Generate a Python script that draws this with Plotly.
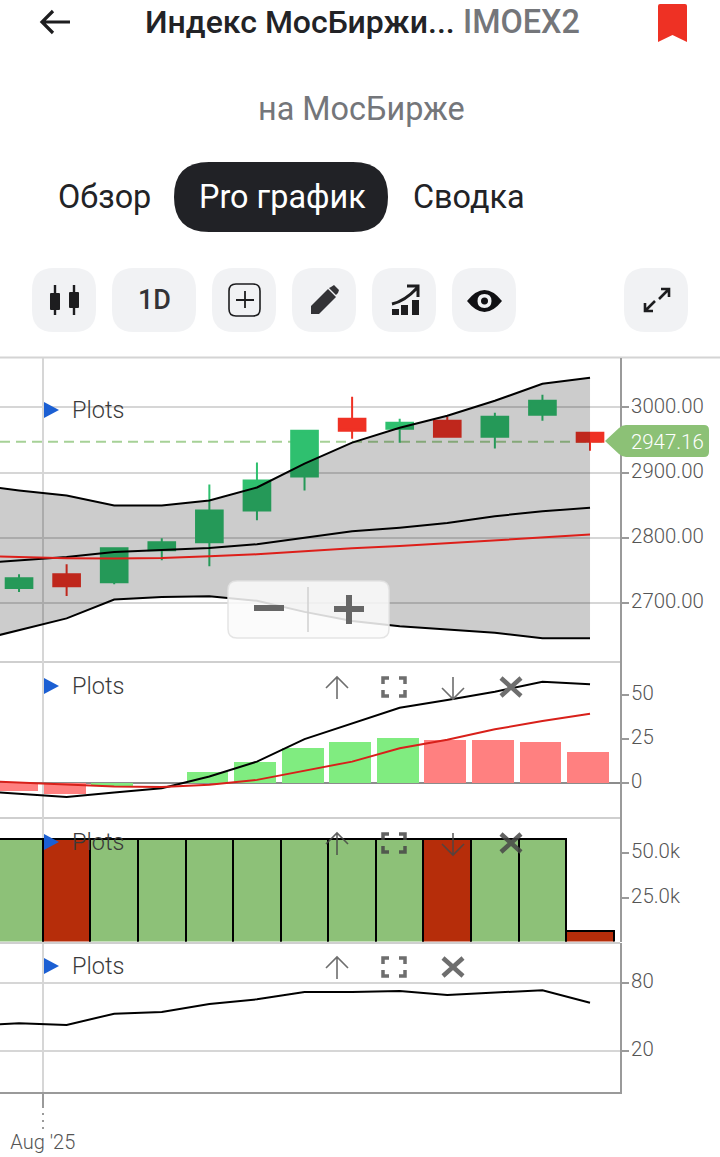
import re
import plotly.graph_objects as go

# ---------- data ----------
sessions = list(range(13))
opens  = [2722.5, 2743.9, 2731.7, 2780.7, 2792.9, 2841.9, 2894.0, 2982.7, 2967.4, 2979.6, 2955.2, 2988.8, 2961.3]
highs  = [2743.9, 2759.2, 2783.7, 2799.0, 2881.7, 2915.4, 2964.3, 3016.4, 2982.7, 2985.8, 2991.9, 3019.4, 2961.3]
lows   = [2716.4, 2710.2, 2728.6, 2765.4, 2756.2, 2826.6, 2872.5, 2952.1, 2946.0, 2955.2, 2936.8, 2979.6, 2933.7]
closes = [2737.8, 2725.5, 2783.7, 2792.9, 2841.9, 2887.8, 2964.3, 2964.3, 2976.6, 2955.2, 2985.8, 3010.3, 2947.16]
last_price = 2947.16

line_x = list(range(-1, 13))
bb_upper = [2881.7, 2872.5, 2864.9, 2849.5, 2849.5, 2857.2, 2877.1, 2913.8, 2946.0, 2968.9, 2987.3, 3010.3, 3036.3, 3045.5]
bb_mid   = [2760.0, 2765.4, 2770.4, 2778.0, 2780.6, 2784.0, 2790.0, 2800.0, 2809.7, 2815.4, 2822.4, 2833.0, 2840.4, 2846.0]
bb_lower = [2639.8, 2658.2, 2676.0, 2705.0, 2709.0, 2710.0, 2703.0, 2686.0, 2672.0, 2664.0, 2659.0, 2654.0, 2645.5, 2645.5]
ma_red   = [2772.2, 2769.9, 2768.4, 2768.0, 2768.9, 2771.5, 2774.5, 2779.0, 2783.7, 2787.2, 2791.8, 2796.0, 2800.6, 2804.7]

macd_hist = [-5.0, -6.4, -1.9, 0.0, 5.9, 11.8, 19.7, 23.0, 25.2, 24.3, 24.3, 23.1, 17.3]
macd_side = ["r", "r", "g", "g", "g", "g", "g", "g", "g", "r", "r", "r", "r"]
macd_line = [-4.5, -6.4, -8.3, -5.7, -3.2, 3.4, 11.9, 24.7, 33.7, 42.6, 47.0, 51.7, 57.4, 56.0]
macd_sig  = [1.1, 0.0, -1.3, -2.3, -2.6, -1.3, 1.5, 6.8, 11.9, 19.5, 24.3, 30.3, 35.0, 39.2]

volume = [57600, 57600, 57600, 57600, 57600, 57600, 57600, 57600, 57600, 57600, 57600, 57600, 6600]
vol_side = ["g", "r", "g", "g", "g", "g", "g", "g", "g", "r", "g", "g", "r"]

rsi = [41.8, 44.2, 42.7, 52.6, 54.1, 61.2, 65.3, 71.8, 71.8, 72.7, 69.1, 71.5, 73.3, 62.3]

price_ticks = [2700, 2800, 2900, 3000]
macd_ticks = [0, 25, 50]
vol_ticks = [25000, 50000]
vol_labels = ["25.0k", "50.0k"]
rsi_ticks = [20, 80]
date_ticks = [0.5]
date_labels = ["Aug '25"]

# ---------- helpers (page pixels -> paper) ----------
W, H = 720, 1157
def X(v): return v / W
def Y(v): return 1 - v / H

def P(s):
    toks = re.findall(r"[MLQCZ]|-?\d+\.?\d*", s)
    out, is_x = [], True
    for t in toks:
        if t.isalpha():
            out.append(t); is_x = True
        else:
            v = float(t)
            out.append(f"{X(v) if is_x else Y(v):.5f}")
            is_x = not is_x
    return " ".join(out)

shapes = []
def path(s, fill=None, line=None, width=0, layer="above"):
    d = dict(type="path", xref="paper", yref="paper", path=P(s), layer=layer,
             line=dict(color=line or "rgba(0,0,0,0)", width=width))
    if fill:
        d["fillcolor"] = fill
    shapes.append(d)

def rr(x0, y0, x1, y1, r):
    return (f"M{x0+r} {y0} L{x1-r} {y0} Q{x1} {y0} {x1} {y0+r} L{x1} {y1-r} Q{x1} {y1} {x1-r} {y1} "
            f"L{x0+r} {y1} Q{x0} {y1} {x0} {y1-r} L{x0} {y0+r} Q{x0} {y0} {x0+r} {y0} Z")

def hline(y, x0, x1, color, width=2, layer="below"):
    path(f"M{x0} {y} L{x1} {y}", line=color, width=width, layer=layer)

annotations = []
def text(x, y, s, size, color, anchor="left", weight=400):
    annotations.append(dict(xref="paper", yref="paper", x=X(x), y=Y(y), text=s, showarrow=False,
                            xanchor=anchor, yanchor="middle", borderpad=0, borderwidth=0,
                            font=dict(family="Roboto", size=size, color=color, weight=weight)))

# ---------- traces ----------
GREEN, RED = "#2fc06f", "#ef3124"
traces = [
    go.Candlestick(x=sessions, open=opens, high=highs, low=lows, close=closes, xaxis="x", yaxis="y",
                   whiskerwidth=0, hoverinfo="skip",
                   increasing=dict(line=dict(color=GREEN, width=2), fillcolor=GREEN),
                   decreasing=dict(line=dict(color=RED, width=2), fillcolor=RED)),
    go.Scatter(x=line_x, y=bb_lower, mode="lines", line=dict(color="#000", width=2), xaxis="x", yaxis="y"),
    go.Scatter(x=line_x, y=bb_upper, mode="lines", line=dict(color="#000", width=2), xaxis="x", yaxis="y",
               fill="tonexty", fillcolor="rgba(0,0,0,0.2)"),
    go.Scatter(x=line_x, y=bb_mid, mode="lines", line=dict(color="#000", width=2), xaxis="x", yaxis="y"),
    go.Scatter(x=line_x, y=ma_red, mode="lines", line=dict(color="#dd1f1a", width=2), xaxis="x", yaxis="y"),
    go.Bar(x=sessions, y=macd_hist, width=0.88, offset=-0.48, xaxis="x2", yaxis="y2",
           marker=dict(color=["#80ec80" if s == "g" else "#ff8080" for s in macd_side], line=dict(width=0))),
    go.Scatter(x=line_x, y=macd_line, mode="lines", line=dict(color="#000", width=2), xaxis="x2", yaxis="y2"),
    go.Scatter(x=line_x, y=macd_sig, mode="lines", line=dict(color="#d8201a", width=2), xaxis="x2", yaxis="y2"),
    go.Bar(x=sessions, y=volume, width=1.0, xaxis="x3", yaxis="y3",
           marker=dict(color=["#8dc178" if s == "g" else "#b62d0a" for s in vol_side],
                       line=dict(color="#000", width=2))),
    go.Scatter(x=line_x, y=rsi, mode="lines", line=dict(color="#000", width=2), xaxis="x4", yaxis="y4"),
]

# ---------- axes ----------
X_DOMAIN = [0, 620 / W]
X_RANGE = [-0.4, 12.63]
AXC = "#9a9a9a"
GRID = "#d6d6d6"
TICKC = "#555555"

def xaxis(anchor, last=False):
    return dict(domain=X_DOMAIN, range=X_RANGE, anchor=anchor, tickmode="array", tickvals=date_ticks,
                ticktext=date_labels if last else [""], showticklabels=last, showgrid=True, gridcolor=GRID,
                gridwidth=2, zeroline=False, fixedrange=True, rangeslider=dict(visible=False),
                showline=last, linecolor=AXC, linewidth=2,
                ticks="outside" if last else "", ticklen=13, tickcolor=AXC, tickwidth=2,
                ticklabelstandoff=18 if last else 0,
                tickfont=dict(family="Roboto", size=20, color=TICKC, weight=300))

def yaxis(anchor, top, bottom, rng, tickvals, ticktext=None, grid=True, fmt=None, zero=False):
    d = dict(domain=[Y(bottom), Y(top)], range=rng, anchor=anchor, side="right", tickmode="array",
             tickvals=tickvals, showgrid=grid, gridcolor=GRID, gridwidth=2, showline=True, linecolor=AXC,
             linewidth=2, ticks="outside", ticklen=7, tickcolor=AXC, tickwidth=2, fixedrange=True,
             zeroline=zero, zerolinecolor="#8c8c8c", zerolinewidth=2,
             ticklabelstandoff=-2, ticklabelshift=-2,
             tickfont=dict(family="Roboto", size=20.4, color=TICKC, weight=300))
    if ticktext: d["ticktext"] = ticktext
    if fmt: d["tickformat"] = fmt
    return d

# ---------- chart furniture ----------
hline(357.5, 0, 720, "#d4d4d4")
hline(662, 0, 620, "#cfcfcf")
hline(818, 0, 620, "#cfcfcf")
hline(943, 0, 620, "#cfcfcf", layer="above")
# current price
shapes.append(dict(type="line", xref="paper", yref="y", x0=0, x1=X(606), y0=last_price, y1=last_price, layer="below",
                   line=dict(color="#a6d197", width=2, dash="10px,6px")))
path("M605 441 L619 428 Q622 425 626 425 L704 425 Q709 425 709 430 L709 452 Q709 457 704 457 L626 457 Q622 457 619 454 Z",
     fill="#8cc176")
annotations.append(dict(xref="paper", yref="y", x=X(667.5), y=last_price, text=f"{last_price:.2f}", showarrow=False,
                        xanchor="center", yanchor="middle",
                        font=dict(family="Roboto", size=20.4, color="#ffffff", weight=300)))
# dotted continuation of date tick
path("M43 1106 L43 1130", line="#9a9a9a", width=2)
shapes[-1]["line"]["dash"] = "2px,5px"

# zoom control
path(rr(228, 581, 389, 638, 9), fill="rgba(250,250,250,0.86)", line="rgba(225,225,225,0.9)", width=1.5)
path("M254 608 L284 608", line="#666666", width=6)
path("M334 609 L364 609 M349 595 L349 624", line="#666666", width=6)
path("M308 587 L308 632", line="#d0d0d0", width=1.5)

# panel controls
for cy in (410, 686, 842, 966):
    path(f"M44 {cy-8} L59 {cy} L44 {cy+8} Z", fill="#1b5fd3")
    text(72, cy, "Plots", 23.5, "#3a3a3a", weight=300)

def up(x, cy, c):
    path(f"M{x} {cy+12} L{x} {cy-10} M{x-11} {cy+1} L{x} {cy-10} L{x+11} {cy+1}", line=c, width=1.6)
def down(x, cy, c):
    path(f"M{x} {cy-10} L{x} {cy+12} M{x-11} {cy+1} L{x} {cy+12} L{x+11} {cy+1}", line=c, width=1.6)
def corners(x, cy, c):
    a, b, n = 11, 9, 6
    path(f"M{x-a} {cy-b+n} L{x-a} {cy-b} L{x-a+n} {cy-b} M{x+a-n} {cy-b} L{x+a} {cy-b} L{x+a} {cy-b+n} "
         f"M{x+a} {cy+b-n} L{x+a} {cy+b} L{x+a-n} {cy+b} M{x-a+n} {cy+b} L{x-a} {cy+b} L{x-a} {cy+b-n}", line=c, width=3.5)
def cross(x, cy, c):
    path(f"M{x-10} {cy-9} L{x+10} {cy+9} M{x+10} {cy-9} L{x-10} {cy+9}", line=c, width=4.5)

for cy, c in ((687, "#6e6e6e"), (843, "rgba(70,70,70,0.85)")):
    up(337, cy, c); corners(394, cy, c); down(453, cy, c); cross(511, cy, c)
up(337, 967, "#6e6e6e"); corners(394, 967, "#6e6e6e"); cross(453, 967, "#6e6e6e")

# ---------- page header ----------
path("M70 22 L42 22 M53 11 L42 22 L53 33", line="#1d1d1f", width=3.2)
path("M658 6 Q658 4 660 4 L685 4 Q687 4 687 6 L687 42 L672.5 35 L658 42 Z", fill="#ee3124")
text(145, 22, "Индекс МосБиржи...", 32, "#222326", weight=500)
text(463, 22, "IMOEX2", 32.4, "#74767a", weight=500)
text(361, 109, "на МосБирже", 32.4, "#74767a", anchor="center")
path(rr(174, 162, 388, 232, 35), fill="#212226")
text(58, 197, "Обзор", 32.4, "#222326")
text(282, 197, "Pro график", 32.4, "#ffffff", anchor="center")
text(413, 197, "Сводка", 32.4, "#222326")

for x0, x1 in ((32, 96), (112, 196), (212, 276), (292, 356), (372, 436), (452, 516), (624, 688)):
    path(rr(x0, 268, x1, 332, 22), fill="#f1f2f4")
DK = "#1d1d1f"
# candle icon
path("M55 285 L55 315 M74 285 L74 315", line=DK, width=2.4)
path(rr(50, 293, 60, 310, 1), fill=DK)
path(rr(69, 292, 79, 308, 1), fill=DK)
text(154, 300, "1D", 27, "#333336", anchor="center", weight=500)
# plus box
path(rr(229, 284, 260, 316, 7), line=DK, width=1.6)
path("M245 291 L245 308 M236 300 L254 300", line=DK, width=1.8)
# pencil
path("M311 314 L311 306 L328 289 L336 297 L319 314 Z", fill="#333336")
path("M331 287 L334 285 L339 290 L338 293 L336 295 L329 288 Z", fill="#333336")
# chart icon
path("M392 309 L399 309 L399 315 L392 315 Z M401 305 L408 305 L408 315 L401 315 Z M412 300 L419 300 L419 315 L412 315 Z", fill=DK)
path("M392 304 Q405 301 417 288 M407 286 L418 286 L418 297", line=DK, width=3)
# eye
path("M467 301 Q484.5 279 502 301 Q484.5 323 467 301 Z", fill="#111114")
path("M477.5 301 Q477.5 294 484.5 294 Q491.5 294 491.5 301 Q491.5 308 484.5 308 Q477.5 308 477.5 301 Z", fill="#f1f2f4")
path("M481 301 Q481 297.5 484.5 297.5 Q488 297.5 488 301 Q488 304.5 484.5 304.5 Q481 304.5 481 301 Z", fill="#111114")
# expand
path("M669 289 L659 299 M661 289 L669 289 L669 297 M645 311 L655 301 M645 303 L645 311 L653 311", line=DK, width=2.6)

layout = dict(
    width=W, height=H, autosize=False, margin=dict(l=0, r=0, t=0, b=0),
    paper_bgcolor="#ffffff", plot_bgcolor="#ffffff", showlegend=False, hovermode=False,
    boxgap=0.2, bargap=0,
    xaxis=xaxis("y"), xaxis2=xaxis("y2"), xaxis3=xaxis("y3"), xaxis4=xaxis("y4", last=True),
    yaxis=yaxis("x", 358, 662, [2609, 3076], price_ticks, fmt=".2f"),
    yaxis2=yaxis("x2", 662, 818, [-20.2, 68.6], macd_ticks, grid=False, zero=True),
    yaxis3=yaxis("x3", 818, 941.5, [800, 69220], vol_ticks, ticktext=vol_labels, grid=False),
    yaxis4=yaxis("x4", 943, 1092, [-16.5, 115], rsi_ticks),
    shapes=shapes, annotations=annotations,
)

fig = go.Figure(data=traces, layout=layout)
fig.write_html("out.html", config=dict(displayModeBar=False),
               post_script="document.body.style.margin='0';document.documentElement.style.overflow='hidden';")
